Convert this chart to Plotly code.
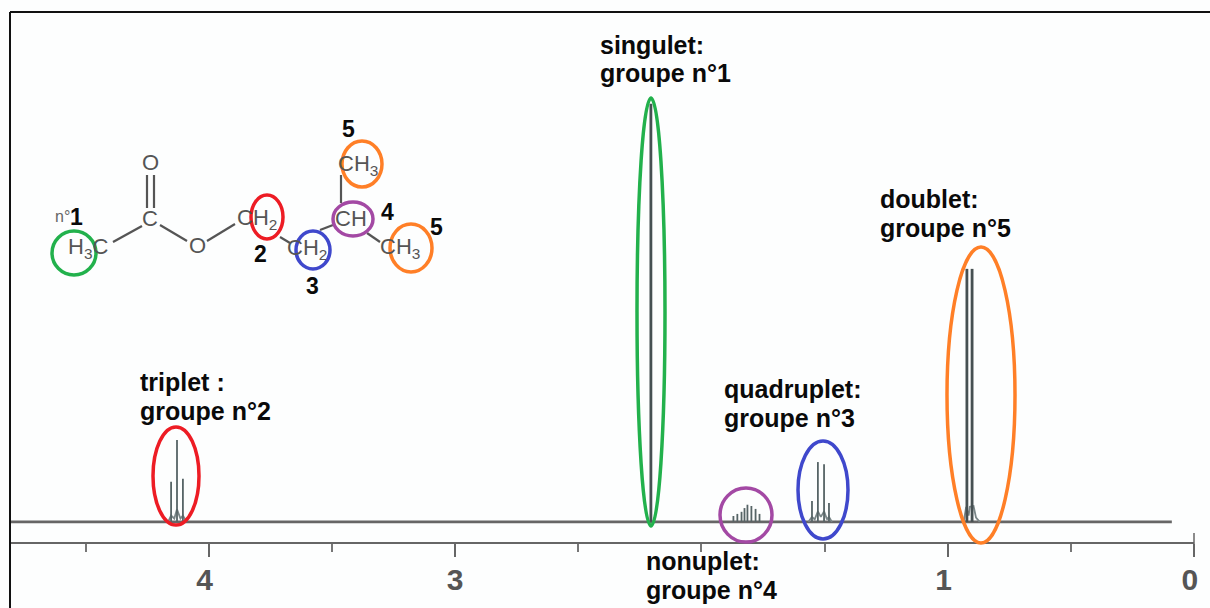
import plotly.graph_objects as go

W, H = 1210, 608
# spectrum values (ppm, relative intensity)
triplet_ppm = [4.153, 4.129, 4.105]
triplet_int = [9.6, 19.6, 10.3]
singlet_ppm = [2.205]
singlet_int = [100.0]
nonuplet_ppm = [1.870, 1.854, 1.837, 1.825, 1.813, 1.797, 1.780, 1.764]
nonuplet_int = [1.4, 1.9, 2.4, 3.3, 4.1, 3.8, 3.1, 1.9]
quartet_ppm = [1.551, 1.527, 1.502, 1.482]
quartet_int = [5.0, 14.3, 13.8, 4.5]
doublet_ppm = [0.922, 0.901]
doublet_int = [60.5, 60.5]
foot_doublet_ppm = [0.935, 0.925, 0.915, 0.91, 0.895, 0.885, 0.87]
foot_doublet_int = [0, 3.6, 1.5, 3.6, 3.8, 1.0, 0]
foot_triplet_ppm = [4.165, 4.153, 4.14, 4.129, 4.115, 4.105, 4.09]
foot_triplet_int = [0, 1.5, 0.8, 3.0, 0.8, 1.5, 0]
foot_quartet_ppm = [1.565, 1.551, 1.54, 1.527, 1.515, 1.502, 1.49, 1.482, 1.47]
foot_quartet_int = [0, 1.2, 0.6, 2.5, 1.2, 2.5, 0.6, 1.2, 0]
baseline_ppm = [4.807, 0.09]
baseline_int = [0, 0]

tick_vals = [4, 3, 1, 0]
tick_text = ["4\u00a0", "3", "1\u00a0", "0\u00a0"]
minor_vals = [4.5, 3.5, 2.5, 2, 1.5, 0.5]

# annotation text
labels = [("singulet:", 598, 45), ("groupe n°1", 598, 73),
          ("triplet :", 138, 382), ("groupe n°2", 138, 411),
          ("quadruplet:", 722, 389), ("groupe n°3", 722, 418),
          ("doublet:", 878, 199), ("groupe n°5", 878, 228),
          ("nonuplet:", 644, 561), ("groupe n°4", 644, 590)]
numbers = [("1", 76, 217), ("2", 260, 254), ("3", 312, 286), ("4", 387, 212), ("5", 348, 129), ("5", 436, 227)]
atoms = [("O", 150, 162), ("C", 150, 218), ("H<sub>3</sub>C", 88, 248), ("O", 197, 245),
         ("CH<sub>2</sub>", 257, 219), ("CH<sub>2</sub>", 307, 249), ("CH", 351, 218),
         ("CH<sub>3</sub>", 358, 165), ("CH<sub>3</sub>", 400, 248)]
bonds = [(113, 242, 142, 226), (147, 175, 147, 208), (154, 175, 154, 208), (160, 225, 187, 241),
         (207, 241, 235, 224), (280, 237, 290, 243), (320, 230, 333, 225), (341, 175, 341, 203),
         (367, 233, 380, 242)]
ellipses = [(651, 312, 14, 214, "#22b14c"), (176, 476, 23, 49, "#ed1c24"), (823, 490, 25, 49, "#3f48cc"),
            (746, 515, 26, 27, "#a349a4"), (981, 395, 34, 148, "#ff7f27"),
            (74, 253, 22, 22, "#22b14c"), (267, 217, 16, 22, "#ed1c24"), (313, 250, 17, 19, "#3f48cc"),
            (353, 219, 20, 17, "#a349a4"), (362, 164, 20, 23, "#ff7f27"), (411, 248, 21, 24, "#ff7f27")]

def px(x):
    return (x - 10) / (W - 10 - 16)

def py(y):
    return 1 - y / H

def sticks(xs, ys):
    ox, oy = [], []
    for a, b in zip(xs, ys):
        ox += [a, a, None]
        oy += [0, b, None]
    return ox, oy

fig = go.Figure()
fig.add_trace(go.Scatter(x=baseline_ppm, y=baseline_int, mode="lines", line=dict(color="#666666", width=2.8), hoverinfo="skip"))
for fx, fy in [(foot_doublet_ppm, foot_doublet_int), (foot_triplet_ppm, foot_triplet_int), (foot_quartet_ppm, foot_quartet_int)]:
    fig.add_trace(go.Scatter(x=fx, y=fy, mode="lines", line=dict(color="#7a8688", width=1.8), hoverinfo="skip"))
all_x = triplet_ppm + nonuplet_ppm + quartet_ppm
all_y = triplet_int + nonuplet_int + quartet_int
sx, sy = sticks(all_x, all_y)
fig.add_trace(go.Scatter(x=sx, y=sy, mode="lines", line=dict(color="#566466", width=1.8), hoverinfo="skip"))
sx, sy = sticks(singlet_ppm + doublet_ppm, singlet_int + doublet_int)
fig.add_trace(go.Scatter(x=sx, y=sy, mode="lines", line=dict(color="#465052", width=2.8), hoverinfo="skip"))

shapes = []
for x0, y0, x1, y1 in bonds:
    shapes.append(dict(type="line", xref="paper", yref="paper", x0=px(x0), x1=px(x1), y0=py(y0), y1=py(y1),
                       line=dict(color="#555555", width=2.2)))
for cx, cy, rx, ry, c in ellipses:
    shapes.append(dict(type="circle", xref="paper", yref="paper", x0=px(cx - rx), x1=px(cx + rx),
                       y0=py(cy + ry), y1=py(cy - ry), line=dict(color=c, width=3.5)))
# frame
shapes.append(dict(type="line", xref="paper", yref="paper", x0=px(10), x1=px(1210), y0=py(12), y1=py(12), line=dict(color="#111111", width=2)))
shapes.append(dict(type="line", xref="paper", yref="paper", x0=px(10), x1=px(10), y0=py(12), y1=py(608), line=dict(color="#111111", width=2)))
# upper part of the zero tick
shapes.append(dict(type="line", xref="paper", yref="paper", x0=px(1194), x1=px(1194), y0=py(533), y1=py(544), line=dict(color="#666666", width=1.5)))

ann = []
for t, x, y in labels:
    ann.append(dict(text=t, xref="paper", yref="paper", x=px(x), y=py(y), xanchor="left", yanchor="middle", showarrow=False,
                    font=dict(family="Liberation Sans", size=25, color="#0a0a0a", weight="bold")))
for t, x, y in numbers:
    ann.append(dict(text=t, xref="paper", yref="paper", x=px(x), y=py(y), xanchor="center", yanchor="middle", showarrow=False,
                    font=dict(family="Liberation Sans", size=23, color="#0a0a0a", weight="bold")))
ann.append(dict(text="n°", xref="paper", yref="paper", x=px(62), y=py(216), xanchor="center", yanchor="middle", showarrow=False,
                font=dict(family="Liberation Sans", size=16, color="#666666")))
for t, x, y in atoms:
    ann.append(dict(text=t, xref="paper", yref="paper", x=px(x), y=py(y), xanchor="center", yanchor="middle", showarrow=False,
                    font=dict(family="Liberation Sans", size=22, color="#555555")))

fig.update_layout(
    width=W, height=H, autosize=False, showlegend=False,
    margin=dict(l=10, r=16, t=0, b=0, pad=0),
    paper_bgcolor="#fdfefe", plot_bgcolor="#fdfefe",
    xaxis=dict(range=[4.807, 0], anchor="free", position=(H - 543) / H, showgrid=False, zeroline=False,
               showline=True, linecolor="#666666", linewidth=2, ticks="outside", ticklen=13, tickwidth=1.5, tickcolor="#666666",
               tickvals=tick_vals, ticktext=tick_text, ticklabelstandoff=-3,
               tickfont=dict(family="Liberation Sans", size=30, color="#555555", weight="bold"),
               minor=dict(tickvals=minor_vals, ticks="outside", ticklen=8, tickwidth=1.5, tickcolor="#777777")),
    yaxis=dict(range=[-20.6, 124.8], visible=False),
    shapes=shapes, annotations=ann,
)
fig.write_html("out.html", config={"displayModeBar": False},
               post_script="document.body.style.margin='0';document.body.style.overflow='hidden';")
